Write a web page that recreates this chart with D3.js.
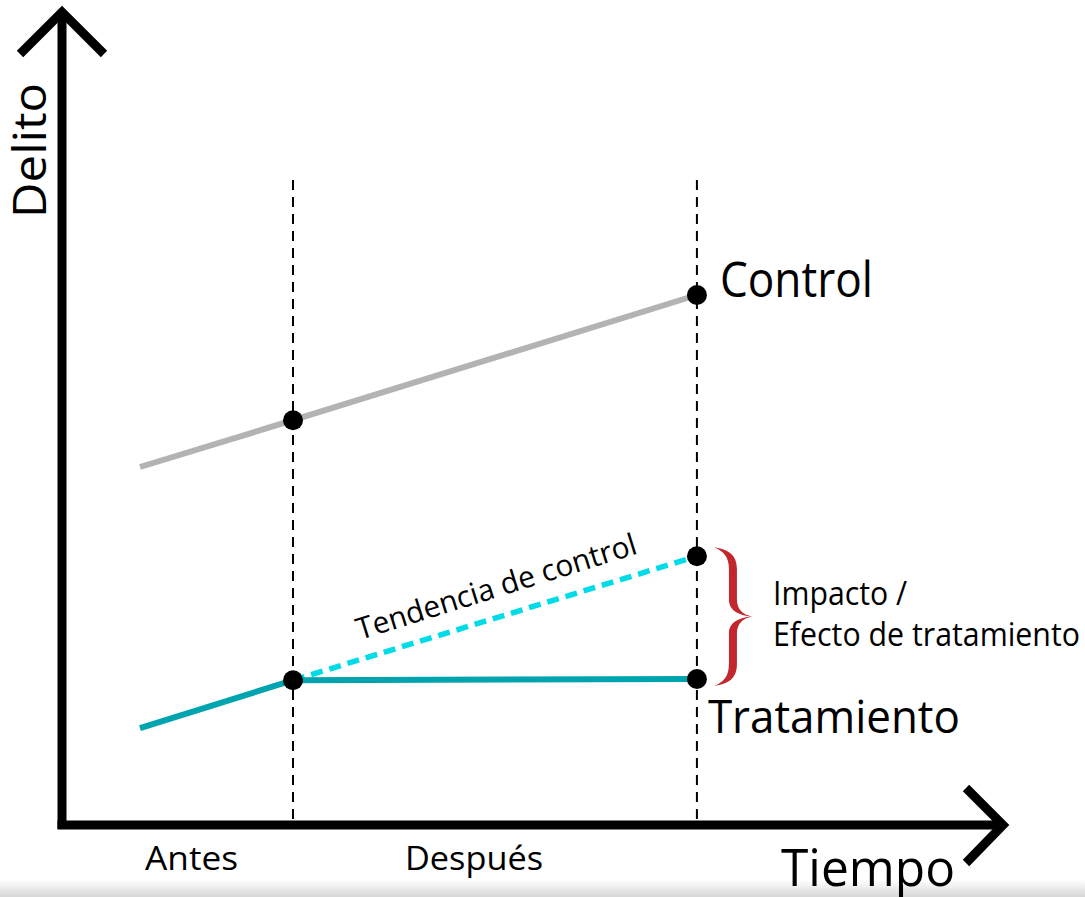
<!DOCTYPE html>
<html>
<head>
<meta charset="utf-8">
<script src="https://cdn.jsdelivr.net/npm/d3@7"></script>
<style>
  body { margin: 0; background: #fff; }
  text { font-family: "Open Sans", "Noto Sans", sans-serif; fill: #000; }
</style>
</head>
<body>
<div id="chart"></div>
<script>
// time points: start of series, intervention, end of follow-up
var periods = [0, 1, 3.64];
var periodLabels = ["Antes", "Después"];
var controlValues = [44.75, 50.6, 66.25];
var treatmentValues = [12.1, 18.1, 18.25];
var trendValues = [18.1, 33.6]; // control trend applied to treatment, from intervention to end

var width = 1085, height = 897;

var svg = d3.select("#chart")
  .append("svg")
  .attr("width", width)
  .attr("height", height);

var x = d3.scaleLinear().domain([0, 1]).range([140, 293]);
var y = d3.scaleLinear().domain([0, 100]).range([825, 25]);

// faint grey strip at the bottom edge
var grad = svg.append("defs").append("linearGradient")
  .attr("id", "strip").attr("x1", 0).attr("y1", 0).attr("x2", 0).attr("y2", 1);
grad.append("stop").attr("offset", "0%").attr("stop-color", "#ffffff");
grad.append("stop").attr("offset", "100%").attr("stop-color", "#d6d6d6");
svg.append("rect")
  .attr("x", 0).attr("y", 880).attr("width", width).attr("height", 17)
  .attr("fill", "url(#strip)");

// vertical dashed guides at intervention and end
svg.selectAll(".guide")
  .data(periods.slice(1))
  .enter()
  .append("line")
  .attr("class", "guide")
  .attr("x1", function(d) { return x(d); })
  .attr("x2", function(d) { return x(d); })
  .attr("y1", 180)
  .attr("y2", y(0))
  .attr("stroke", "#000")
  .attr("stroke-width", 2)
  .attr("stroke-dasharray", "10,7");

// axes with arrow heads
var originX = 62, originY = y(0);
svg.append("path")
  .attr("d", "M" + originX + "," + (originY + 4) + "V12")
  .attr("stroke", "#000").attr("stroke-width", 9).attr("fill", "none");
svg.append("path")
  .attr("d", "M20,54L" + originX + ",12L104,54")
  .attr("stroke", "#000").attr("stroke-width", 9).attr("fill", "none");
svg.append("path")
  .attr("d", "M" + (originX - 4.5) + "," + originY + "H1003")
  .attr("stroke", "#000").attr("stroke-width", 9).attr("fill", "none");
svg.append("path")
  .attr("d", "M966,788L1003," + originY + "L966,863")
  .attr("stroke", "#000").attr("stroke-width", 9).attr("fill", "none");

var line = d3.line()
  .x(function(d) { return x(d[0]); })
  .y(function(d) { return y(d[1]); });

// control series
svg.append("path")
  .attr("d", line(d3.zip(periods, controlValues)))
  .attr("stroke", "#b3b3b3").attr("stroke-width", 6).attr("fill", "none");

// control trend (counterfactual)
svg.append("path")
  .attr("d", line(d3.zip(periods.slice(1), trendValues)))
  .attr("stroke", "#00dbe8").attr("stroke-width", 5.5).attr("fill", "none")
  .attr("stroke-dasharray", "12,7");

// treatment series
svg.append("path")
  .attr("d", line(d3.zip(periods, treatmentValues)))
  .attr("stroke", "#00a4ae").attr("stroke-width", 6).attr("fill", "none");

// dots
var dots = [
  [periods[1], controlValues[1]], [periods[2], controlValues[2]],
  [periods[1], treatmentValues[1]], [periods[2], treatmentValues[2]],
  [periods[2], trendValues[1]]
];
svg.selectAll(".dot")
  .data(dots)
  .enter()
  .append("circle")
  .attr("class", "dot")
  .attr("cx", function(d) { return x(d[0]); })
  .attr("cy", function(d) { return y(d[1]); })
  .attr("r", 10)
  .attr("fill", "#000");

// curly brace between trend end and treatment end
var bx = x(periods[2]) + 17;
var bTop = y(trendValues[1]) - 9, bBot = y(treatmentValues[2]) + 7;
var mid = (bTop + bBot) / 2;
var oX = bx + 23, iX = bx + 15, tipX = bx + 38;
var brace = "M" + bx + "," + bTop +
  "C" + (bx + 14) + "," + (bTop + 2) + " " + oX + "," + (bTop + 7) + " " + oX + "," + (bTop + 22) +
  "L" + oX + "," + (mid - 17) +
  "C" + oX + "," + (mid - 7) + " " + (tipX - 9) + "," + (mid - 2) + " " + tipX + "," + mid +
  "C" + (tipX - 9) + "," + (mid + 2) + " " + oX + "," + (mid + 7) + " " + oX + "," + (mid + 17) +
  "L" + oX + "," + (bBot - 22) +
  "C" + oX + "," + (bBot - 7) + " " + (bx + 14) + "," + (bBot - 2) + " " + bx + "," + bBot +
  "C" + (bx + 10) + "," + (bBot - 4) + " " + iX + "," + (bBot - 10) + " " + iX + "," + (bBot - 22) +
  "L" + iX + "," + (mid + 17) +
  "C" + iX + "," + (mid + 6) + " " + (tipX - 13) + "," + (mid + 1) + " " + tipX + "," + mid +
  "C" + (tipX - 13) + "," + (mid - 1) + " " + iX + "," + (mid - 6) + " " + iX + "," + (mid - 17) +
  "L" + iX + "," + (bTop + 22) +
  "C" + iX + "," + (bTop + 10) + " " + (bx + 10) + "," + (bTop + 4) + " " + bx + "," + bTop + "Z";
svg.append("path")
  .attr("d", brace)
  .attr("fill", "#c1272d");

// labels
function label(txt, px, py, size, len) {
  return svg.append("text")
    .attr("x", px).attr("y", py)
    .attr("font-size", size)
    .attr("textLength", len)
    .attr("lengthAdjust", "spacingAndGlyphs")
    .text(txt);
}

label("Control", x(periods[2]) + 23, y(controlValues[2]) + 2, 49, 153);
label("Tratamiento", x(periods[2]) + 11, y(treatmentValues[2]) + 54, 46, 252);
label("Impacto /", 773, 605, 32, 134);
label("Efecto de tratamiento", 773, 646, 32, 307);
label(periodLabels[0], 145, 870, 33, 93);
label(periodLabels[1], 405, 870, 33, 138);
label("Tiempo", 781, 886, 52, 174);

svg.append("text")
  .attr("transform", "translate(46,218) rotate(-90)")
  .attr("font-size", 46)
  .attr("textLength", 135)
  .attr("lengthAdjust", "spacingAndGlyphs")
  .text("Delito");

svg.append("text")
  .attr("transform", "translate(360,640) rotate(-17.3)")
  .attr("font-size", 30)
  .attr("textLength", 292)
  .attr("lengthAdjust", "spacingAndGlyphs")
  .text("Tendencia de control");
</script>
</body>
</html>
